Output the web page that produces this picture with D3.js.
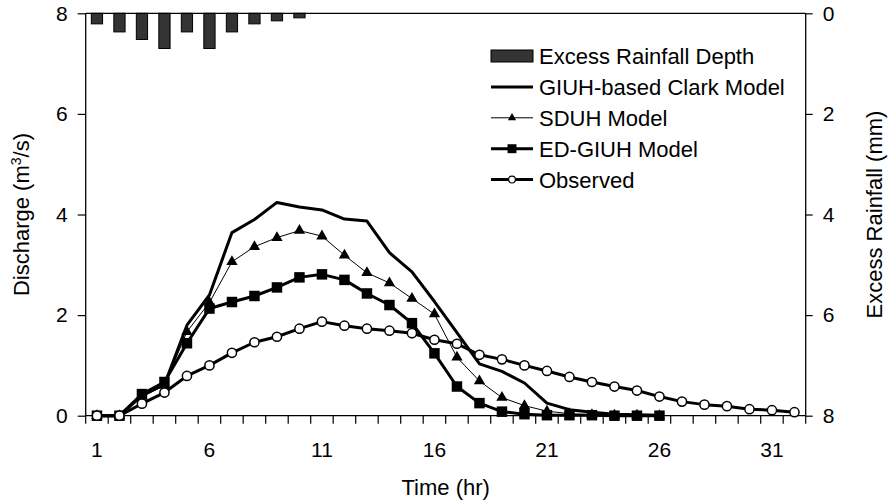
<!DOCTYPE html>
<html>
<head>
<meta charset="utf-8">
<script src="https://cdn.jsdelivr.net/npm/d3@7"></script>
<style>
  html, body { margin: 0; padding: 0; background: #fff; }
  svg { display: block; font-family: "Liberation Sans", Arial, sans-serif; }
</style>
</head>
<body>
<svg id="chart" width="894" height="503"></svg>
<script>
// ---- data ----
const categories = [1,2,3,4,5,6,7,8,9,10,11,12,13,14,15,16,17,18,19,20,21,22,23,24,25,26,27,28,29,30,31,32];
const xTickLabels = [1, 6, 11, 16, 21, 26, 31];
const leftTicks = [0, 2, 4, 6, 8];
const rightTicks = [0, 2, 4, 6, 8];

const rainfall = [0.21, 0.37, 0.52, 0.70, 0.37, 0.70, 0.37, 0.21, 0.15, 0.09];
const giuhClark = [0, 0, 0.40, 0.62, 1.80, 2.40, 3.64, 3.90, 4.24, 4.15, 4.09, 3.91, 3.87, 3.24, 2.86, 2.27, 1.65, 1.03, 0.88, 0.65, 0.25, 0.12, 0.07, 0.03, 0.02, 0.01];
const sduh = [0, 0, 0.38, 0.60, 1.67, 2.25, 3.06, 3.36, 3.54, 3.68, 3.57, 3.19, 2.84, 2.64, 2.33, 2.02, 1.16, 0.69, 0.36, 0.20, 0.09, 0.04, 0.02, 0.01, 0.01, 0.0];
const edGiuh = [0, 0, 0.43, 0.67, 1.44, 2.13, 2.26, 2.38, 2.55, 2.75, 2.81, 2.70, 2.43, 2.20, 1.84, 1.24, 0.58, 0.25, 0.08, 0.03, 0.01, 0.01, 0.01, 0.0, 0.0, 0.0];
const observed = [0, 0, 0.24, 0.46, 0.79, 1.00, 1.25, 1.46, 1.57, 1.73, 1.87, 1.79, 1.73, 1.69, 1.64, 1.51, 1.43, 1.21, 1.12, 1.00, 0.89, 0.77, 0.67, 0.58, 0.50, 0.38, 0.28, 0.22, 0.19, 0.13, 0.11, 0.07];

const legendLabels = ["Excess Rainfall Depth", "GIUH-based Clark Model", "SDUH Model", "ED-GIUH Model", "Observed"];

// ---- layout ----
const L = 85.7, R = 805.7, T = 13.3, B = 415.7;
const svg = d3.select("#chart");

const x = d3.scaleBand().domain(categories).range([L, R]).padding(0);
const bw = x.bandwidth();
const cx = c => x(c) + bw / 2;
const y = d3.scaleLinear().domain([0, 8]).range([B, T]);
const yR = d3.scaleLinear().domain([0, 8]).range([T, B]);

// ---- rainfall bars (hanging from top) ----
svg.append("g").selectAll("rect").data(rainfall).join("rect")
  .attr("x", (d, i) => cx(categories[i]) - bw * 0.25)
  .attr("y", yR(0))
  .attr("width", bw * 0.5)
  .attr("height", d => yR(d) - yR(0))
  .attr("fill", "#333333")
  .attr("stroke", "#000")
  .attr("stroke-width", 1);

// ---- frame ----
const frame = svg.append("g").attr("stroke", "#000").attr("stroke-width", 1.3).attr("fill", "none");
frame.append("line").attr("x1", L).attr("x2", R).attr("y1", T).attr("y2", T);
frame.append("line").attr("x1", L).attr("x2", L).attr("y1", T).attr("y2", B);
frame.append("line").attr("x1", R).attr("x2", R).attr("y1", T).attr("y2", B);
frame.append("line").attr("x1", L).attr("x2", R).attr("y1", B).attr("y2", B);

// ---- axes ----
const leftAxis = d3.axisLeft(y).tickValues(leftTicks).tickSize(8).tickPadding(10).tickFormat(d3.format("d"));
const gl = svg.append("g").attr("transform", `translate(${L},0)`).call(leftAxis);
const rightAxis = d3.axisRight(yR).tickValues(rightTicks).tickSize(7).tickPadding(10).tickFormat(d3.format("d"));
const gr = svg.append("g").attr("transform", `translate(${R},0)`).call(rightAxis);
[gl, gr].forEach(g => {
  g.select(".domain").remove();
  g.selectAll(".tick line").attr("stroke", "#000").attr("stroke-width", 1.2);
  g.selectAll(".tick text").attr("font-size", 21).attr("fill", "#000")
    .attr("font-family", "'Liberation Sans', Arial, sans-serif");
});

// x ticks at category boundaries
const boundaries = categories.map(c => x(c)).concat([x(categories[categories.length - 1]) + bw]);
svg.append("g").selectAll("line").data(boundaries).join("line")
  .attr("x1", d => d).attr("x2", d => d)
  .attr("y1", B).attr("y2", B + 8)
  .attr("stroke", "#000").attr("stroke-width", 1.2);
svg.append("g").selectAll("text").data(xTickLabels).join("text")
  .attr("x", d => cx(d)).attr("y", B + 41)
  .attr("text-anchor", "middle").attr("font-size", 21).attr("fill", "#000")
  .text(d => d);

// ---- axis titles ----
svg.append("text").attr("x", (L + R) / 2).attr("y", 495)
  .attr("text-anchor", "middle").attr("font-size", 22).text("Time (hr)");
const lt = svg.append("text")
  .attr("transform", `translate(29,${(T + B) / 2}) rotate(-90)`)
  .attr("text-anchor", "middle").attr("font-size", 22);
lt.append("tspan").text("Discharge (m");
lt.append("tspan").attr("font-size", 14).attr("dy", -8).text("3");
lt.append("tspan").attr("dy", 8).text("/s)");
svg.append("text")
  .attr("transform", `translate(882,${(T + B) / 2}) rotate(-90)`)
  .attr("text-anchor", "middle").attr("font-size", 22).text("Excess Rainfall (mm)");

// ---- series ----
const line = d3.line().x((d, i) => cx(categories[i])).y(d => y(d));
function drawLine(data, width) {
  svg.append("path").datum(data).attr("d", line)
    .attr("fill", "none").attr("stroke", "#000").attr("stroke-width", width)
    .attr("stroke-linejoin", "round");
}
drawLine(observed, 3);
drawLine(giuhClark, 3);
drawLine(edGiuh, 3);
drawLine(sduh, 1);

const sym = (type, size) => d3.symbol().type(type).size(size)();
// SDUH triangles
svg.append("g").selectAll("path").data(sduh).join("path")
  .attr("transform", (d, i) => `translate(${cx(categories[i])},${y(d)})`)
  .attr("d", sym(d3.symbolTriangle, 55)).attr("fill", "#000");
// ED-GIUH squares
svg.append("g").selectAll("path").data(edGiuh).join("path")
  .attr("transform", (d, i) => `translate(${cx(categories[i])},${y(d)})`)
  .attr("d", sym(d3.symbolSquare, 110)).attr("fill", "#000");
// Observed circles
svg.append("g").selectAll("circle").data(observed).join("circle")
  .attr("cx", (d, i) => cx(categories[i])).attr("cy", d => y(d))
  .attr("r", 4.6).attr("fill", "#fff").attr("stroke", "#000").attr("stroke-width", 1.5);

// ---- legend ----
const lgX0 = 491, lgX1 = 533, lgTx = 539, lgY0 = 56, lgDy = 30.9;
const lg = svg.append("g");
legendLabels.forEach((lab, i) => {
  const yy = lgY0 + i * lgDy;
  const mx = (lgX0 + lgX1) / 2;
  if (i === 0) {
    lg.append("rect").attr("x", lgX0).attr("y", yy - 6).attr("width", lgX1 - lgX0).attr("height", 12)
      .attr("fill", "#333333").attr("stroke", "#000");
  } else {
    lg.append("line").attr("x1", lgX0).attr("x2", lgX1).attr("y1", yy).attr("y2", yy)
      .attr("stroke", "#000").attr("stroke-width", i === 2 ? 1 : 3);
    if (i === 2) lg.append("path").attr("transform", `translate(${mx},${yy})`).attr("d", sym(d3.symbolTriangle, 30));
    if (i === 3) lg.append("path").attr("transform", `translate(${mx},${yy})`).attr("d", sym(d3.symbolSquare, 80));
    if (i === 4) lg.append("circle").attr("cx", mx).attr("cy", yy).attr("r", 3.4)
      .attr("fill", "#fff").attr("stroke", "#000").attr("stroke-width", 1.2);
  }
  lg.append("text").attr("x", lgTx).attr("y", yy).attr("dy", "0.36em")
    .attr("font-size", 22).attr("fill", "#000").text(lab);
});
</script>
</body>
</html>
